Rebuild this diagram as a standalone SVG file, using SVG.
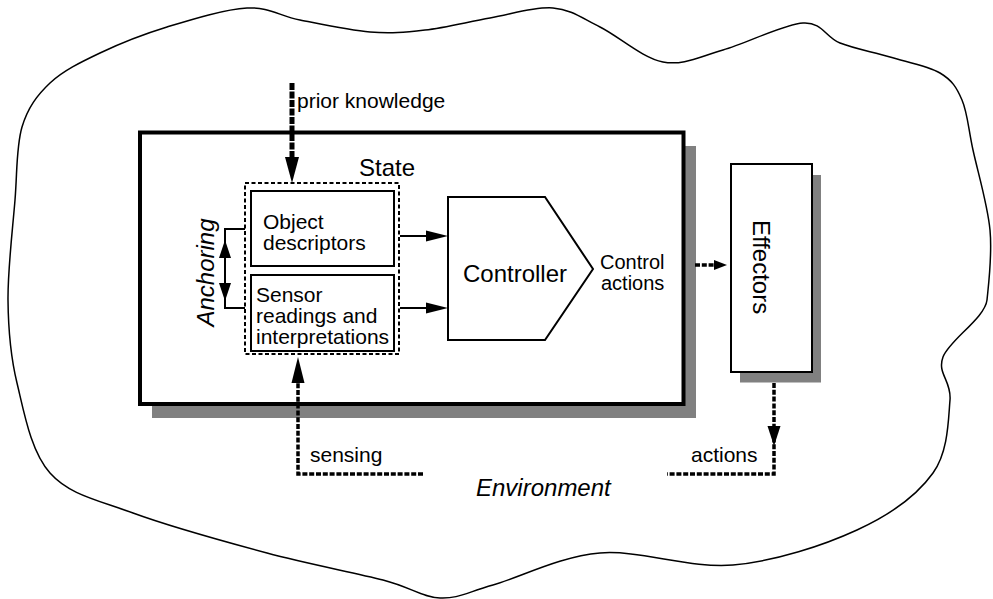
<svg xmlns="http://www.w3.org/2000/svg" width="993" height="599" viewBox="0 0 993 599">
<style>
text{font-family:"Liberation Sans",Arial,sans-serif;fill:#000}
.t20{font-size:20px}
.t21{font-size:21px}
.t24{font-size:24px}
.it{font-style:italic}
.box{fill:#fff;stroke:#000;stroke-width:2}
.shadow{fill:#808080;stroke:none}
.line{fill:none;stroke:#000;stroke-width:2}
.dash{fill:none;stroke:#000;stroke-width:3.5;stroke-dasharray:5 1.8}
.head{fill:#000;stroke:none}
</style>
<rect width="993" height="599" fill="#fff"/>
<g id="environment">
<path fill="none" stroke="#000" stroke-width="1.5" d="M247,8 C269.2,6.8 279.5,16 300,20 C320.5,24 349.2,30.3 370,32 C390.8,33.7 405,32.3 425,30 C445,27.7 468.7,21.7 490,18 C511.3,14.3 534.7,6.5 553,8 C571.3,9.5 581.7,18 600,27 C618.3,36 642.5,58.2 663,62 C683.5,65.8 699.7,56.5 723,50 C746.3,43.5 783.5,24.2 803,23 C822.5,21.8 825.5,37.3 840,43 C854.5,48.7 873.3,52 890,57 C906.7,62 928,65.8 940,73 C952,80.2 956.5,87.2 962,100 C967.5,112.8 968.3,128.3 973,150 C977.7,171.7 987.7,205 990,230 C992.3,255 989,280 987,300 C985,318 949.2,340.3 943,357 C936.8,373.7 951.7,380.7 950,400 C948.3,419.3 948.5,451.3 933,473 C917.5,494.7 890.3,514.7 857,530 C823.7,545.3 775.8,561.2 733,565 C690.2,568.8 640,549.7 600,553 C560,556.3 519.7,577.5 493,585 C466.3,592.5 458.3,598.8 440,598 C421.7,597.2 411.8,587.5 383,580 C354.2,572.5 308.7,564.2 267,553 C225.3,541.8 169.2,526.3 133,513 C96.8,499.7 69.3,494.7 50,473 C30.7,451.3 24,411.8 17,383 C10,354.2 8.3,330.5 8,300 C7.7,269.5 12.7,228.8 15,200 C17.3,171.2 16.2,146.5 22,127 C27.8,107.5 37,95.3 50,83 C63,70.7 80.5,62.3 100,53 C119.5,43.7 142.5,34.5 167,27 C191.5,19.5 224.8,9.2 247,8 Z"/>
<text class="t24 it" x="476" y="496">Environment</text>
</g>
<g id="agent">
<rect class="shadow" x="152" y="146" width="544" height="272"/>
<rect x="140" y="132.5" width="543.5" height="271.5" fill="#fff" stroke="#000" stroke-width="4"/>
</g>
<g id="state">
<rect x="245" y="183" width="154" height="171" fill="none" stroke="#000" stroke-width="2" stroke-dasharray="4 2.5"/>
<text class="t24" x="359" y="176">State</text>
</g>
<g id="object-descriptors">
<rect class="box" x="251" y="191" width="143" height="75"/>
<text class="t21" x="263" y="229">Object</text>
<text class="t21" x="263" y="250">descriptors</text>
</g>
<g id="sensor-readings">
<rect class="box" x="251" y="275" width="143" height="76"/>
<text class="t21" x="256" y="302">Sensor</text>
<text class="t21" x="256" y="323">readings and</text>
<text class="t21" x="256" y="344">interpretations</text>
</g>
<g id="controller">
<polygon class="box" points="448,197 545,197 593,269 545,340 448,340"/>
<text class="t24" x="463" y="282">Controller</text>
</g>
<g id="effectors">
<rect class="shadow" x="740" y="175" width="81" height="207.5"/>
<rect class="box" x="731" y="164" width="81" height="208"/>
<text class="t24" transform="translate(753,267) rotate(90)" text-anchor="middle">Effectors</text>
</g>
<g id="connectors">
<line x1="292" y1="83" x2="292" y2="158" stroke="#000" stroke-width="5" stroke-dasharray="7 1.5"/>
<polygon class="head" points="285,157 299,157 292,183"/>
<path class="line" stroke-width="1.5" d="M245,229 H225 V308 H245"/>
<polygon class="head" points="219,258 231,258 225,240"/>
<polygon class="head" points="219,283 231,283 225,301"/>
<line class="line" x1="400" y1="236" x2="428" y2="236"/>
<polygon class="head" points="426,230.5 426,241.5 448,236"/>
<line class="line" x1="400" y1="308" x2="428" y2="308"/>
<polygon class="head" points="426,302.5 426,313.5 448,308"/>
<line class="dash" x1="695" y1="265" x2="716" y2="265"/>
<polygon class="head" points="714,260 714,270 727,265"/>
<path class="dash" d="M423,474 H298 V383"/>
<polygon class="head" points="291.5,383 304.5,383 298,357"/>
<path class="dash" d="M774,383 V474 H667"/>
<polygon class="head" points="767.5,426 780.5,426 774,446"/>
</g>
<g id="labels">
<text class="t21" x="297" y="108">prior knowledge</text>
<text class="t24 it" transform="translate(214,272.5) rotate(-90)" text-anchor="middle">Anchoring</text>
<text class="t20" x="600" y="269">Control</text>
<text class="t20" x="601" y="290">actions</text>
<text class="t21" x="310" y="462">sensing</text>
<text class="t21" x="691" y="462">actions</text>
</g>
</svg>
